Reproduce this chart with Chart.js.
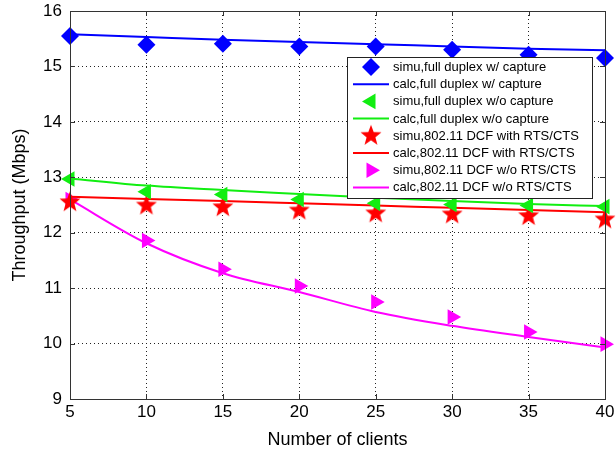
<!DOCTYPE html>
<html>
<head>
<meta charset="utf-8">
<script src="https://cdn.jsdelivr.net/npm/chart.js@4.4.1/dist/chart.umd.min.js"></script>
<style>
  html, body { margin: 0; padding: 0; background: #fff; }
  #wrap { width: 616px; height: 455px; }
</style>
</head>
<body>
<div id="wrap"><canvas id="thr"></canvas></div>
<script>
// data
const clients = [5, 10, 15, 20, 25, 30, 35, 40];
const simuFdCap   = [15.55, 15.39, 15.41, 15.36, 15.36, 15.30, 15.21, 15.15];
const calcFdCap   = [15.58, 15.53, 15.48, 15.44, 15.40, 15.36, 15.32, 15.29];
const simuFdNoCap = [12.97, 12.74, 12.69, 12.60, 12.53, 12.51, 12.49, 12.47];
const calcFdNoCap = [12.98, 12.85, 12.77, 12.70, 12.63, 12.57, 12.52, 12.48];
const simuRts     = [12.55, 12.49, 12.46, 12.40, 12.35, 12.33, 12.30, 12.24];
const calcRts     = [12.65, 12.61, 12.57, 12.53, 12.49, 12.45, 12.41, 12.37];
const simuNoRts   = [12.60, 11.86, 11.34, 11.04, 10.75, 10.48, 10.21, 9.99];
const calcNoRts   = [12.60, 11.81, 11.27, 10.93, 10.57, 10.32, 10.12, 9.93];
const seriesNames = [
  'simu,full duplex w/ capture', 'calc,full duplex w/ capture',
  'simu,full duplex w/o capture', 'calc,full duplex w/o capture',
  'simu,802.11 DCF with RTS/CTS', 'calc,802.11 DCF with RTS/CTS',
  'simu,802.11 DCF w/o RTS/CTS', 'calc,802.11 DCF w/o RTS/CTS'
];

const FONT = '"Liberation Sans", Arial, sans-serif';

// filled 5-point star as a point image
function makeStar(r, color) {
  const c = document.createElement('canvas');
  c.width = c.height = r * 2 + 2;
  const g = c.getContext('2d');
  g.fillStyle = color;
  g.beginPath();
  for (let i = 0; i < 10; i++) {
    const rad = i % 2 === 0 ? r : r * 0.42;
    const a = -Math.PI / 2 + i * Math.PI / 5;
    const px = c.width / 2 + rad * Math.cos(a), py = c.height / 2 + rad * Math.sin(a);
    i === 0 ? g.moveTo(px, py) : g.lineTo(px, py);
  }
  g.closePath();
  g.fill();
  return c;
}
const starImg = makeStar(11, '#ff0000');

function pts(ys) { return clients.map((x, i) => ({ x: x, y: ys[i] })); }

function simu(label, ys, color, style, rot, r) {
  return { label, data: pts(ys), showLine: false, pointStyle: style, pointRotation: rot,
    pointRadius: r, pointHoverRadius: r, backgroundColor: color, borderColor: color,
    borderWidth: 0, clip: false, isSimu: true };
}
function calc(label, ys, color) {
  return { label, data: pts(ys), borderColor: color, backgroundColor: color, borderWidth: 2,
    pointRadius: 0, cubicInterpolationMode: 'monotone', clip: false, isSimu: false };
}

// MATLAB-like box, inward ticks and legend inside plot
const frame = {
  id: 'frame',
  afterDraw(chart) {
    const { ctx, chartArea: a, scales } = chart;
    ctx.save();
    ctx.strokeStyle = '#333';
    ctx.lineWidth = 1;
    ctx.strokeRect(a.left + 0.5, a.top + 0.5, a.right - a.left, a.bottom - a.top);
    ctx.beginPath();
    scales.x.ticks.forEach(t => {
      const px = Math.round(scales.x.getPixelForValue(t.value)) + 0.5;
      ctx.moveTo(px, a.bottom); ctx.lineTo(px, a.bottom - 5);
      ctx.moveTo(px, a.top); ctx.lineTo(px, a.top + 5);
    });
    scales.y.ticks.forEach(t => {
      const py = Math.round(scales.y.getPixelForValue(t.value)) + 0.5;
      ctx.moveTo(a.left, py); ctx.lineTo(a.left + 5, py);
      ctx.moveTo(a.right, py); ctx.lineTo(a.right - 5, py);
    });
    ctx.stroke();

    // legend
    const bx = 347, by = 57, bw = 245, bh = 141;
    ctx.fillStyle = '#fff';
    ctx.fillRect(bx, by, bw, bh);
    ctx.strokeStyle = '#222';
    ctx.strokeRect(bx + 0.5, by + 0.5, bw, bh);
    ctx.font = '13px ' + FONT;
    ctx.textBaseline = 'middle';
    chart.data.datasets.forEach((ds, i) => {
      const y = by + 10 + i * 17.2;
      if (ds.isSimu) {
        ctx.fillStyle = ds.backgroundColor;
        ctx.strokeStyle = ds.borderColor;
        Chart.helpers.drawPoint(ctx, { pointStyle: ds.pointStyle, rotation: ds.pointRotation,
          radius: ds.pointRadius, borderWidth: 0 }, 371, y);
      } else {
        ctx.strokeStyle = ds.borderColor;
        ctx.lineWidth = 2;
        ctx.beginPath(); ctx.moveTo(353, y); ctx.lineTo(389, y); ctx.stroke();
      }
      ctx.fillStyle = '#000';
      ctx.fillText(ds.label, 393, y + 0.5);
    });
    ctx.restore();
  }
};

const gridColor = c => (c.index === 0 || c.index === c.chart.scales[c.scale.id].ticks.length - 1) ? 'rgba(0,0,0,0)' : '#222';

new Chart(document.getElementById('thr'), {
  type: 'line',
  data: {
    datasets: [
      simu(seriesNames[0], simuFdCap, '#0000ff', 'rectRot', 0, 9),
      calc(seriesNames[1], calcFdCap, '#0000ff'),
      simu(seriesNames[2], simuFdNoCap, '#11ee11', 'triangle', 270, 9),
      calc(seriesNames[3], calcFdNoCap, '#11ee11'),
      simu(seriesNames[4], simuRts, '#ff0000', starImg, 0, 11),
      calc(seriesNames[5], calcRts, '#ff0000'),
      simu(seriesNames[6], simuNoRts, '#ff00ff', 'triangle', 90, 9),
      calc(seriesNames[7], calcNoRts, '#ff00ff')
    ]
  },
  options: {
    responsive: true,
    maintainAspectRatio: false,
    animation: false,
    layout: { padding: { top: 10, right: 9, left: 0, bottom: 0 } },
    plugins: { legend: { display: false }, tooltip: { enabled: false } },
    scales: {
      x: {
        type: 'linear', min: 5, max: 40,
        afterFit: s => { s.height = 56; s.paddingLeft = 0; s.paddingRight = 0; },
        ticks: { stepSize: 5, color: '#000', font: { family: FONT, size: 17 }, padding: 3, maxRotation: 0 },
        grid: { color: gridColor, drawTicks: false },
        border: { display: false, dash: [1, 3] },
        title: { display: true, text: 'Number of clients', color: '#000', font: { family: FONT, size: 18 }, padding: { top: 6 } }
      },
      y: {
        min: 9, max: 16,
        afterFit: s => { s.width = 70; s.paddingTop = 0; s.paddingBottom = 0; },
        ticks: { stepSize: 1, color: '#000', font: { family: FONT, size: 17 }, padding: 8 },
        grid: { color: gridColor, drawTicks: false },
        border: { display: false, dash: [1, 3] },
        title: { display: true, text: 'Throughput (Mbps)', color: '#000', font: { family: FONT, size: 18 }, padding: { top: 9, bottom: 4 } }
      }
    }
  },
  plugins: [frame]
});
</script>
</body>
</html>
